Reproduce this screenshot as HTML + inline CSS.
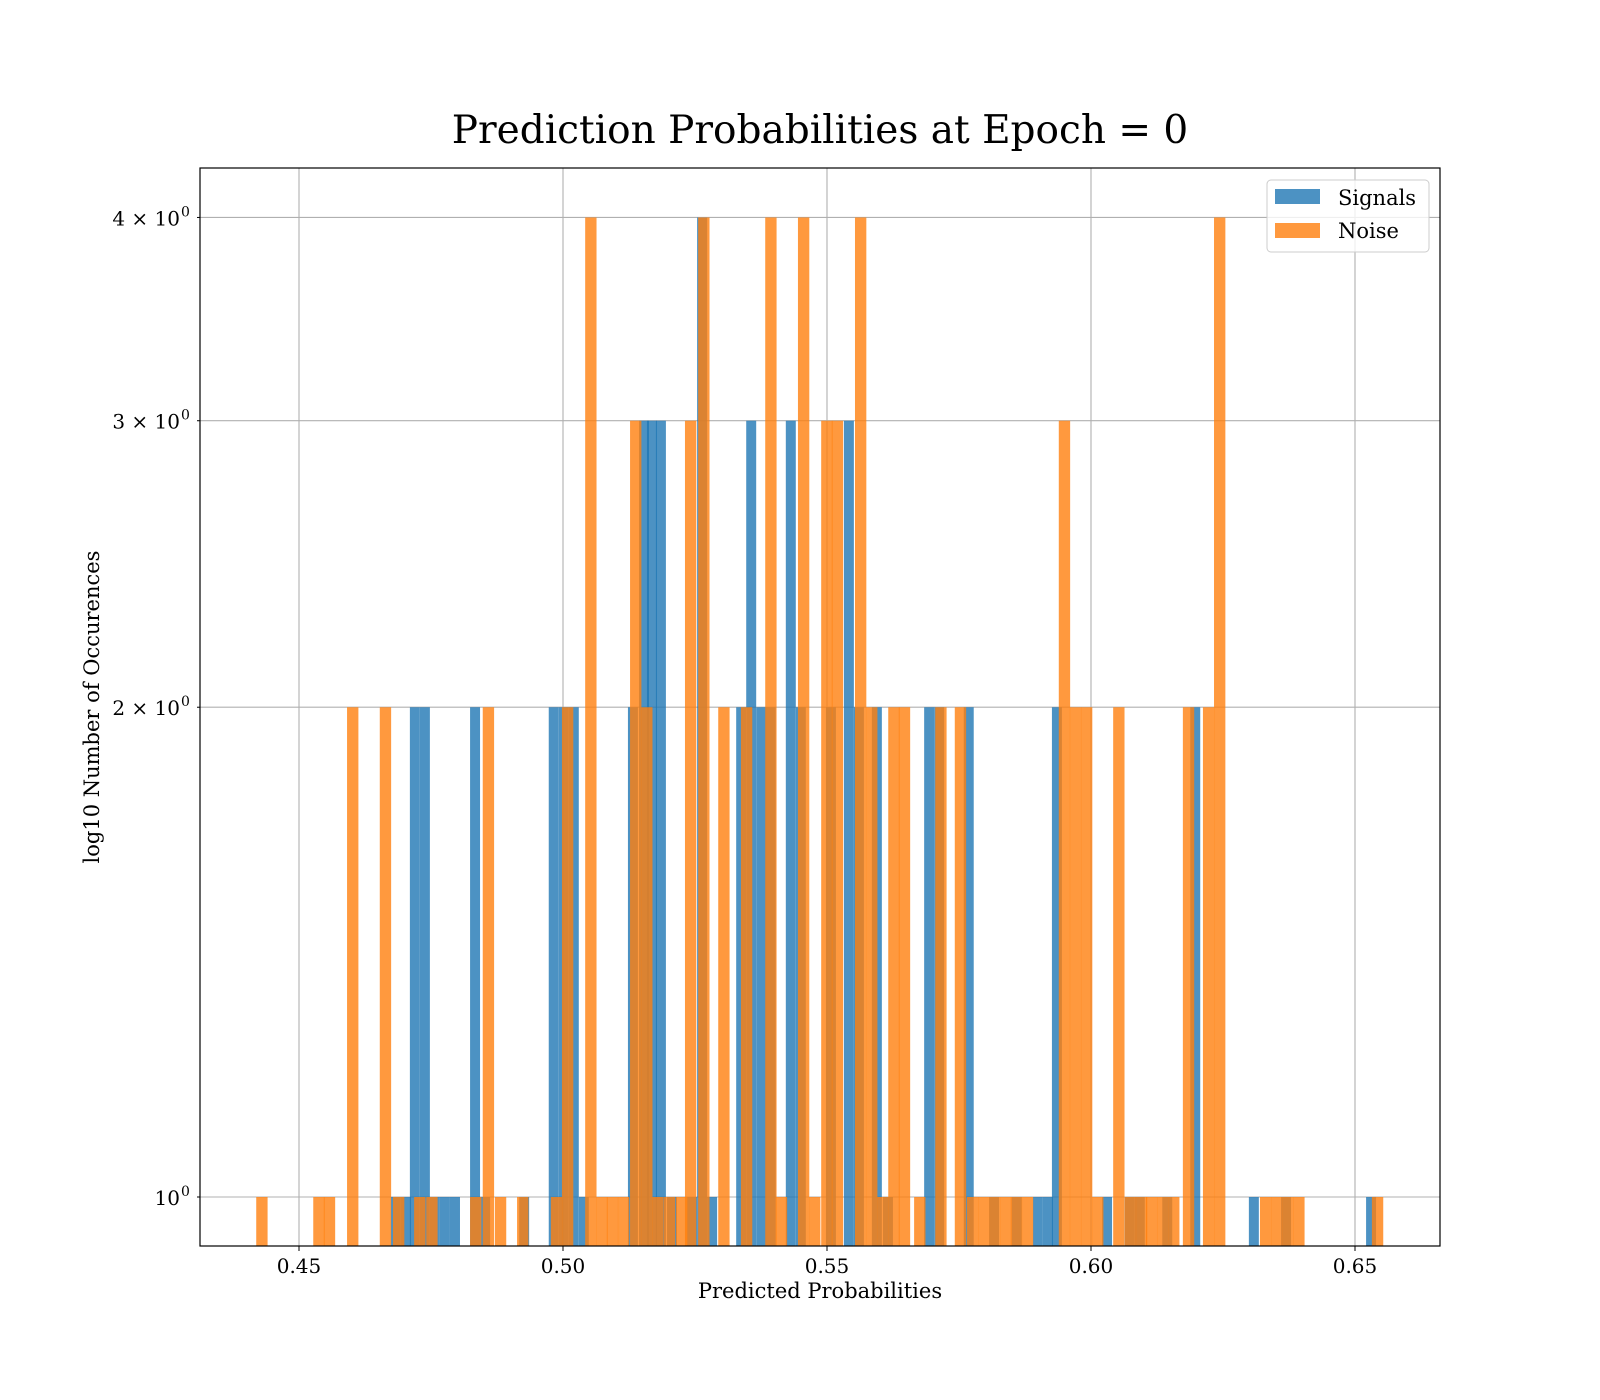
<!DOCTYPE html>
<html><head><meta charset="utf-8"><style>
html,body{margin:0;padding:0;background:#fff;}
svg{display:block;font-family:"DejaVu Serif","Liberation Serif",serif;}
</style></head><body>
<svg id="chart" width="1600" height="1400" viewBox="0 0 1600 1400" xmlns="http://www.w3.org/2000/svg">
<rect x="0" y="0" width="1600" height="1400" fill="#fff"/>
<g id="grid"></g>
<g id="bars-signal"></g>
<g id="bars-noise"></g>
<rect x="200" y="168" width="1240" height="1078" fill="none" stroke="#000" stroke-width="1.2"/>
<g id="ticks"></g>
<text x="820" y="143" text-anchor="middle" font-size="39" fill="#000">Prediction Probabilities at Epoch = 0</text>
<text x="820" y="1298" text-anchor="middle" font-size="21" fill="#000">Predicted Probabilities</text>
<text x="99" y="707" text-anchor="middle" font-size="21" fill="#000" transform="rotate(-90 99 707)">log10 Number of Occurences</text>
<g>
<rect x="1267" y="180" width="162" height="72" rx="4" fill="#fff" fill-opacity="0.8" stroke="#ccc" stroke-width="1"/>
<rect x="1275" y="189" width="45" height="15" fill="#1f77b4" fill-opacity="0.8"/>
<text x="1338" y="205" font-size="21" fill="#000">Signals</text>
<rect x="1275" y="223" width="45" height="15" fill="#ff7f0e" fill-opacity="0.8"/>
<text x="1338" y="238" font-size="21" fill="#000">Noise</text>
</g>
</svg>
<script>
// ---- data ----
const signalBins = [0.4674,0.4693,0.4710,0.4729,0.4748,0.4767,0.4786,0.4824,0.4843,0.4917,
0.4973,0.4992,0.5011,0.5030,
0.5123,0.5144,0.5159,0.5176,0.5197,0.5235,0.5254,0.5273,
0.5328,0.5347,0.5366,0.5384,
0.5422,0.5441,
0.5498,0.5532,0.5551,0.5585,0.5606,
0.5684,0.5703,0.5759,0.5807,0.5850,0.5890,0.5909,0.5926,
0.6021,0.6064,0.6083,0.6135,0.6188,
0.6299,0.6360,0.6521];
const signalCounts = [1,1,2,2,1,1,1,2,1,1,
2,2,2,1,
2,3,3,3,1,1,4,1,
2,3,2,2,
3,2,
2,3,2,2,1,
2,2,2,1,1,1,1,2,
1,1,1,1,2,
1,1,1];
const noiseBins = [0.4419,0.4527,0.4547,0.4591,0.4653,0.4678,0.4718,0.4741,0.4824,0.4848,0.4871,0.4913,
0.4977,0.4998,0.5042,0.5063,0.5083,0.5104,0.5127,0.5148,0.5169,0.5191,0.5214,0.5231,0.5256,
0.5294,0.5337,0.5383,0.5403,0.5445,0.5466,0.5489,0.5509,
0.5553,0.5574,0.5595,0.5616,0.5636,0.5665,0.5705,0.5742,0.5765,0.5786,0.5807,0.5828,0.5848,0.5869,
0.5939,0.5960,0.5981,0.6002,0.6042,0.6064,0.6085,0.6104,0.6125,0.6146,0.6174,0.6212,0.6233,
0.6320,0.6341,0.6362,0.6383,0.6532];
const noiseCounts = [1,1,1,2,2,1,1,1,1,2,1,1,
1,2,4,1,1,1,3,2,1,1,1,3,4,
2,2,4,1,4,1,3,3,
4,2,1,2,2,1,2,2,1,1,1,1,1,1,
3,2,2,1,2,1,1,1,1,1,2,2,4,
1,1,1,1,1];
const signalBinWidth = 0.00189;
const noiseBinWidth = 0.00215;
const xTickValues = [0.45,0.50,0.55,0.60,0.65];
const xTickLabels = ["0.45","0.50","0.55","0.60","0.65"];
const yTickValues = [1,2,3,4];
const yTickLabels = ["10","2 × 10","3 × 10","4 × 10"];

// ---- axes ----
const L=200,R=1440,T=168,B=1246;
const xMin=0.43125,xMax=0.66610;
const yMin=0.9330,yMax=4.29;
function xs(v){return L+(v-xMin)/(xMax-xMin)*(R-L);}
function ys(v){return B-(Math.log10(v)-Math.log10(yMin))/(Math.log10(yMax)-Math.log10(yMin))*(B-T);}
const NS="http://www.w3.org/2000/svg";
function mk(tag,attrs,parent){const e=document.createElementNS(NS,tag);for(const k in attrs)e.setAttribute(k,attrs[k]);parent.appendChild(e);return e;}

const grid=document.getElementById('grid');
xTickValues.forEach((v,i)=>{
  const l=mk('line',{x1:xs(v),x2:xs(v),y1:T,y2:B,stroke:'#b0b0b0','stroke-width':1.1},grid);
  
  
});
yTickValues.forEach((v,i)=>{
  const l=mk('line',{x1:L,x2:R,y1:ys(v),y2:ys(v),stroke:'#b0b0b0','stroke-width':1.1},grid);
  
  
});

function drawBars(gid,bins,counts,w,color,name){
  const g=document.getElementById(gid);
  bins.forEach((b,i)=>{
    const x0=xs(b),x1=xs(b+w),y=ys(counts[i]);
    const r=mk('rect',{x:x0,y:y,width:x1-x0,height:B-y,fill:color,'fill-opacity':0.8},g);
    
    
  });
}
drawBars('bars-signal',signalBins,signalCounts,signalBinWidth,'#1f77b4','signal-bar');
drawBars('bars-noise',noiseBins,noiseCounts,noiseBinWidth,'#ff7f0e','noise-bar');

const ticks=document.getElementById('ticks');
xTickValues.forEach((v,i)=>{
  const t=mk('line',{x1:xs(v),x2:xs(v),y1:B,y2:B+5,stroke:'#000','stroke-width':1},ticks);
  
  
  const tx=mk('text',{x:xs(v),y:B+27,'text-anchor':'middle','font-size':20,fill:'#000'},ticks);
  
  
  tx.textContent=xTickLabels[i];
});
yTickValues.forEach((v,i)=>{
  const t=mk('line',{x1:L-3,x2:L,y1:ys(v),y2:ys(v),stroke:'#000','stroke-width':1},ticks);
  
  
  const tx=mk('text',{x:L-20,y:ys(v)+8,'text-anchor':'end','font-size':20,fill:'#000'},ticks);
  
  
  tx.textContent=yTickLabels[i];
  const sup=mk('text',{x:L-19,y:ys(v)-1,'text-anchor':'start','font-size':14,fill:'#000'},ticks);
  
  
  sup.textContent='0';
});
</script>
</body></html>
